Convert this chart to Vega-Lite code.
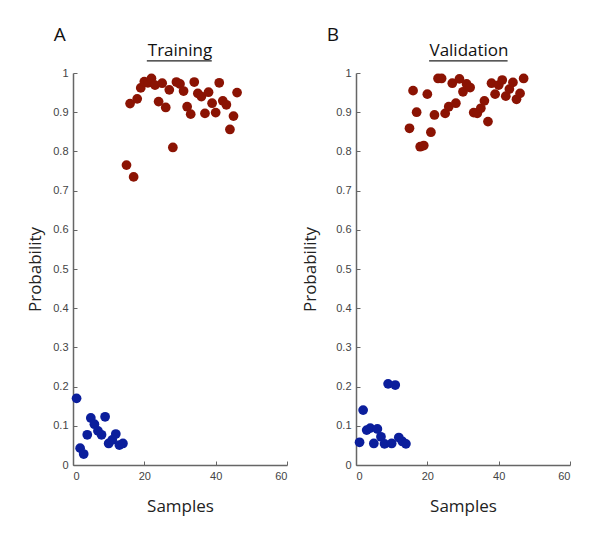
{
  "$schema": "https://vega.github.io/schema/vega-lite/v6.json",
  "padding": {"left": 26, "top": 26, "right": 0, "bottom": 20},
  "background": "white",
  "datasets": {
    "training": [
      {"sample": 1, "prob": 0.17, "cls": "neg"},
      {"sample": 2, "prob": 0.043, "cls": "neg"},
      {"sample": 3, "prob": 0.028, "cls": "neg"},
      {"sample": 4, "prob": 0.077, "cls": "neg"},
      {"sample": 5, "prob": 0.12, "cls": "neg"},
      {"sample": 6, "prob": 0.104, "cls": "neg"},
      {"sample": 7, "prob": 0.087, "cls": "neg"},
      {"sample": 8, "prob": 0.077, "cls": "neg"},
      {"sample": 9, "prob": 0.123, "cls": "neg"},
      {"sample": 10, "prob": 0.055, "cls": "neg"},
      {"sample": 11, "prob": 0.064, "cls": "neg"},
      {"sample": 12, "prob": 0.079, "cls": "neg"},
      {"sample": 13, "prob": 0.051, "cls": "neg"},
      {"sample": 14, "prob": 0.055, "cls": "neg"},
      {"sample": 15, "prob": 0.765, "cls": "pos"},
      {"sample": 16, "prob": 0.922, "cls": "pos"},
      {"sample": 17, "prob": 0.735, "cls": "pos"},
      {"sample": 18, "prob": 0.934, "cls": "pos"},
      {"sample": 19, "prob": 0.962, "cls": "pos"},
      {"sample": 20, "prob": 0.978, "cls": "pos"},
      {"sample": 21, "prob": 0.975, "cls": "pos"},
      {"sample": 22, "prob": 0.986, "cls": "pos"},
      {"sample": 23, "prob": 0.969, "cls": "pos"},
      {"sample": 24, "prob": 0.927, "cls": "pos"},
      {"sample": 25, "prob": 0.974, "cls": "pos"},
      {"sample": 26, "prob": 0.912, "cls": "pos"},
      {"sample": 27, "prob": 0.957, "cls": "pos"},
      {"sample": 28, "prob": 0.81, "cls": "pos"},
      {"sample": 29, "prob": 0.977, "cls": "pos"},
      {"sample": 30, "prob": 0.972, "cls": "pos"},
      {"sample": 31, "prob": 0.954, "cls": "pos"},
      {"sample": 32, "prob": 0.914, "cls": "pos"},
      {"sample": 33, "prob": 0.895, "cls": "pos"},
      {"sample": 34, "prob": 0.977, "cls": "pos"},
      {"sample": 35, "prob": 0.948, "cls": "pos"},
      {"sample": 36, "prob": 0.94, "cls": "pos"},
      {"sample": 37, "prob": 0.897, "cls": "pos"},
      {"sample": 38, "prob": 0.951, "cls": "pos"},
      {"sample": 39, "prob": 0.923, "cls": "pos"},
      {"sample": 40, "prob": 0.899, "cls": "pos"},
      {"sample": 41, "prob": 0.975, "cls": "pos"},
      {"sample": 42, "prob": 0.929, "cls": "pos"},
      {"sample": 43, "prob": 0.919, "cls": "pos"},
      {"sample": 44, "prob": 0.856, "cls": "pos"},
      {"sample": 45, "prob": 0.89, "cls": "pos"},
      {"sample": 46, "prob": 0.95, "cls": "pos"}
    ],
    "validation": [
      {"sample": 1, "prob": 0.058, "cls": "neg"},
      {"sample": 2, "prob": 0.14, "cls": "neg"},
      {"sample": 3, "prob": 0.089, "cls": "neg"},
      {"sample": 4, "prob": 0.094, "cls": "neg"},
      {"sample": 5, "prob": 0.055, "cls": "neg"},
      {"sample": 6, "prob": 0.092, "cls": "neg"},
      {"sample": 7, "prob": 0.072, "cls": "neg"},
      {"sample": 8, "prob": 0.054, "cls": "neg"},
      {"sample": 9, "prob": 0.207, "cls": "neg"},
      {"sample": 10, "prob": 0.055, "cls": "neg"},
      {"sample": 11, "prob": 0.204, "cls": "neg"},
      {"sample": 12, "prob": 0.07, "cls": "neg"},
      {"sample": 13, "prob": 0.06, "cls": "neg"},
      {"sample": 14, "prob": 0.054, "cls": "neg"},
      {"sample": 15, "prob": 0.859, "cls": "pos"},
      {"sample": 16, "prob": 0.955, "cls": "pos"},
      {"sample": 17, "prob": 0.9, "cls": "pos"},
      {"sample": 18, "prob": 0.812, "cls": "pos"},
      {"sample": 19, "prob": 0.815, "cls": "pos"},
      {"sample": 20, "prob": 0.946, "cls": "pos"},
      {"sample": 21, "prob": 0.849, "cls": "pos"},
      {"sample": 22, "prob": 0.893, "cls": "pos"},
      {"sample": 23, "prob": 0.986, "cls": "pos"},
      {"sample": 24, "prob": 0.986, "cls": "pos"},
      {"sample": 25, "prob": 0.897, "cls": "pos"},
      {"sample": 26, "prob": 0.914, "cls": "pos"},
      {"sample": 27, "prob": 0.974, "cls": "pos"},
      {"sample": 28, "prob": 0.923, "cls": "pos"},
      {"sample": 29, "prob": 0.985, "cls": "pos"},
      {"sample": 30, "prob": 0.952, "cls": "pos"},
      {"sample": 31, "prob": 0.972, "cls": "pos"},
      {"sample": 32, "prob": 0.963, "cls": "pos"},
      {"sample": 33, "prob": 0.899, "cls": "pos"},
      {"sample": 34, "prob": 0.897, "cls": "pos"},
      {"sample": 35, "prob": 0.91, "cls": "pos"},
      {"sample": 36, "prob": 0.929, "cls": "pos"},
      {"sample": 37, "prob": 0.876, "cls": "pos"},
      {"sample": 38, "prob": 0.974, "cls": "pos"},
      {"sample": 39, "prob": 0.946, "cls": "pos"},
      {"sample": 40, "prob": 0.969, "cls": "pos"},
      {"sample": 41, "prob": 0.982, "cls": "pos"},
      {"sample": 42, "prob": 0.941, "cls": "pos"},
      {"sample": 43, "prob": 0.959, "cls": "pos"},
      {"sample": 44, "prob": 0.976, "cls": "pos"},
      {"sample": 45, "prob": 0.933, "cls": "pos"},
      {"sample": 46, "prob": 0.948, "cls": "pos"},
      {"sample": 47, "prob": 0.986, "cls": "pos"}
    ]
  },
  "config": {
    "view": {"stroke": null},
    "font": "Open Sans",
    "axis": {
      "grid": false,
      "domainColor": "#666666",
      "domainWidth": 1.5,
      "tickColor": "#666666",
      "tickSize": -4,
      "labelPadding": 9,
      "labelFont": "Liberation Sans",
      "labelFontSize": 11,
      "labelColor": "#444444",
      "titleFont": "Open Sans",
      "titleFontSize": 17,
      "titleFontWeight": "normal",
      "titleColor": "#222222"
    },
    "title": {"font": "Open Sans", "fontWeight": "normal", "color": "#111111"}
  },
  "spacing": 13,
  "hconcat": [
    {
      "title": {"text": "A", "anchor": "start", "fontSize": 19, "dx": 27, "offset": -3},
      "vconcat": [
        {
          "title": {"text": "Training", "fontSize": 17, "anchor": "middle", "offset": 0},
          "width": 214,
          "height": 392,
          "encoding": {
            "x": {"field": "sample", "type": "quantitative", "scale": {"domain": [0, 60]}, "axis": {"title": "Samples", "values": [0, 20, 40, 60], "titlePadding": 17}},
            "y": {"field": "prob", "type": "quantitative", "scale": {"domain": [0, 1]}, "axis": {"title": "Probability", "values": [0, 0.1, 0.2, 0.3, 0.4, 0.5, 0.6, 0.7, 0.8, 0.9, 1], "format": ".1~f", "titlePadding": 8}}
          },
          "layer": [
            {
              "data": {"name": "training"},
              "mark": {"type": "circle", "size": 95, "opacity": 1},
              "encoding": {
                "color": {"field": "cls", "type": "nominal", "scale": {"domain": ["neg", "pos"], "range": ["#0b1e9c", "#8b1303"]}, "legend": null}
              }
            },
            {
              "data": {"values": [{"sample": 20.7, "sample2": 38.9, "prob": 1.031}]},
              "mark": {"type": "rule", "clip": false, "color": "#222222", "strokeWidth": 1.2},
              "encoding": {
                "x2": {"field": "sample2"}
              }
            }
          ]
        }
      ]
    },
    {
      "title": {"text": "B", "anchor": "start", "fontSize": 19, "dx": 25, "offset": -3},
      "vconcat": [
        {
          "title": {"text": "Validation", "fontSize": 17, "anchor": "middle", "offset": 0, "dx": 6},
          "width": 214,
          "height": 392,
          "encoding": {
            "x": {"field": "sample", "type": "quantitative", "scale": {"domain": [0, 60]}, "axis": {"title": "Samples", "values": [0, 20, 40, 60], "titlePadding": 17}},
            "y": {"field": "prob", "type": "quantitative", "scale": {"domain": [0, 1]}, "axis": {"title": "Probability", "values": [0, 0.1, 0.2, 0.3, 0.4, 0.5, 0.6, 0.7, 0.8, 0.9, 1], "format": ".1~f", "titlePadding": 16}}
          },
          "layer": [
            {
              "data": {"name": "validation"},
              "mark": {"type": "circle", "size": 95, "opacity": 1},
              "encoding": {
                "color": {"field": "cls", "type": "nominal", "scale": {"domain": ["neg", "pos"], "range": ["#0b1e9c", "#8b1303"]}, "legend": null}
              }
            },
            {
              "data": {"values": [{"sample": 20.5, "sample2": 42.5, "prob": 1.031}]},
              "mark": {"type": "rule", "clip": false, "color": "#222222", "strokeWidth": 1.2},
              "encoding": {
                "x2": {"field": "sample2"}
              }
            }
          ]
        }
      ]
    }
  ]
}
